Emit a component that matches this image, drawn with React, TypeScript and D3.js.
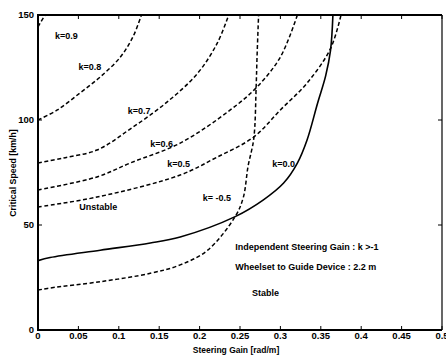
import React from "react";
import * as d3 from "d3";

type P = [number, number];

const seriesK09: P[] = [[0, 144.3], [0.004, 147], [0.009, 150]];
const seriesK08: P[] = [[0, 100], [0.024, 104.8], [0.052, 112.9], [0.077, 120.5], [0.102, 130], [0.118, 140], [0.128, 150]];
const seriesK07: P[] = [[0, 79.5], [0.031, 81.9], [0.073, 85.7], [0.114, 95.7], [0.158, 108], [0.197, 122], [0.222, 136.7], [0.236, 150]];
const seriesK06: P[] = [[0, 66.7], [0.073, 72.9], [0.114, 79.5], [0.176, 89], [0.238, 104.8], [0.271, 115.7], [0.3, 130], [0.321, 150]];
const seriesK05: P[] = [[0, 58.6], [0.073, 63.3], [0.176, 73.8], [0.22, 82], [0.267, 91.9], [0.3, 104.8], [0.333, 117.6], [0.362, 134], [0.375, 150]];
const seriesKm05: P[] = [[0, 19], [0.015, 20], [0.077, 23], [0.139, 27], [0.176, 31], [0.21, 38], [0.244, 54], [0.254, 63], [0.26, 78], [0.267, 91], [0.27, 116], [0.271, 129], [0.273, 150]];
const seriesK00: P[] = [[0, 33], [0.015, 34.5], [0.077, 38], [0.139, 41.4], [0.176, 44.3], [0.244, 54], [0.279, 62], [0.304, 70], [0.321, 79.5], [0.333, 90.5], [0.346, 108], [0.356, 121], [0.362, 133], [0.365, 150]];

const xTicks = [0, 0.05, 0.1, 0.15, 0.2, 0.25, 0.3, 0.35, 0.4, 0.45, 0.5];
const xTickLabels = ["0", "0.05", "0.1", "0.15", "0.2", "0.25", "0.3", "0.35", "0.4", "0.45", "0.5"];
const yTicks = [0, 50, 100, 150];

const curveLabels: { text: string; x: number; y: number }[] = [
  { text: "k=0.9", x: 0.021, y: 140 },
  { text: "k=0.8", x: 0.05, y: 125.5 },
  { text: "k=0.7", x: 0.111, y: 104.5 },
  { text: "k=0.6", x: 0.139, y: 88.5 },
  { text: "k=0.5", x: 0.16, y: 79 },
  { text: "k=0.0", x: 0.29, y: 79 },
  { text: "k= -0.5", x: 0.204, y: 63 },
];

const notes: { text: string; x: number; y: number }[] = [
  { text: "Unstable", x: 0.051, y: 58.6 },
  { text: "Independent Steering Gain : k >-1", x: 0.244, y: 39.5 },
  { text: "Wheelset to Guide Device : 2.2 m", x: 0.244, y: 30 },
  { text: "Stable", x: 0.265, y: 18 },
];

const W = 446;
const H = 356;
const left = 38;
const right = 442;
const top = 15;
const bottom = 330;

export default function App() {
  const x = d3.scaleLinear().domain([0, 0.5]).range([left, right]);
  const y = d3.scaleLinear().domain([0, 150]).range([bottom, top]);
  const line = d3
    .line<P>()
    .x((d) => x(d[0]))
    .y((d) => y(d[1]))
    .curve(d3.curveCatmullRom.alpha(0.5));

  const dashed = [seriesK09, seriesK08, seriesK07, seriesK06, seriesK05, seriesKm05];
  const font = "'Liberation Sans', Arial, sans-serif";

  return (
    <svg
      width={W}
      height={H}
      style={{ position: "absolute", left: 0, top: 0, background: "#fff" }}
      fontFamily={font}
    >
      <defs>
        <clipPath id="plot">
          <rect x={left} y={top} width={right - left} height={bottom - top} />
        </clipPath>
      </defs>
      <rect x={0} y={0} width={W} height={H} fill="#fff" />
      <g clipPath="url(#plot)">
        {dashed.map((s, i) => (
          <path
            key={i}
            d={line(s) || ""}
            fill="none"
            stroke="#000"
            strokeWidth={1.5}
            strokeDasharray="4,2.5"
          />
        ))}
        <path d={line(seriesK00) || ""} fill="none" stroke="#000" strokeWidth={1.6} />
      </g>
      <line x1={left} x2={left} y1={top} y2={bottom + 1} stroke="#000" strokeWidth={2} />
      <line x1={left - 1} x2={right} y1={bottom} y2={bottom} stroke="#000" strokeWidth={2} />
      <line x1={left - 1} x2={right} y1={top} y2={top} stroke="#000" strokeWidth={2} />
      <line x1={right} x2={right} y1={top} y2={bottom} stroke="#000" strokeWidth={1.2} />
      {xTicks.map((t, i) => (
        <g key={"x" + i}>
          <line x1={x(t)} x2={x(t)} y1={bottom} y2={bottom - 4} stroke="#000" strokeWidth={1} />
          <line x1={x(t)} x2={x(t)} y1={top} y2={top + 4} stroke="#000" strokeWidth={1} />
          <text x={x(t)} y={339} textAnchor="middle" fontSize={9.5} fontWeight="bold">
            {xTickLabels[i]}
          </text>
        </g>
      ))}
      {yTicks.map((t, i) => (
        <g key={"y" + i}>
          <line x1={left} x2={left + 4} y1={y(t)} y2={y(t)} stroke="#000" strokeWidth={1} />
          <line x1={right} x2={right - 4} y1={y(t)} y2={y(t)} stroke="#000" strokeWidth={1} />
          <text x={34} y={y(t) + 3.3} textAnchor="end" fontSize={9.5} fontWeight="bold">
            {String(t)}
          </text>
        </g>
      ))}
      <text x={236} y={353} textAnchor="middle" fontSize={8.5} fontWeight="bold">
        Steering Gain [rad/m]
      </text>
      <text
        transform={`translate(16,${173}) rotate(-90)`}
        textAnchor="middle"
        fontSize={8.8}
        fontWeight="bold"
      >
        Critical Speed [km/h]
      </text>
      {curveLabels.map((l, i) => (
        <text key={"l" + i} x={x(l.x)} y={y(l.y) + 3.3} fontSize={9} fontWeight="bold">
          {l.text}
        </text>
      ))}
      {notes.map((n, i) => (
        <text key={"n" + i} x={x(n.x)} y={y(n.y) + 3.3} fontSize={9} fontWeight="bold">
          {n.text}
        </text>
      ))}
    </svg>
  );
}
